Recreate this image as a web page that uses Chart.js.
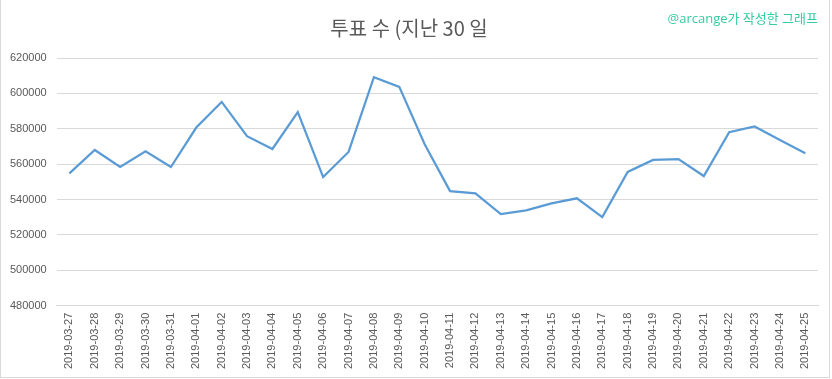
<!DOCTYPE html>
<html>
<head>
<meta charset="utf-8">
<script src="https://cdn.jsdelivr.net/npm/chart.js@4/dist/chart.umd.min.js"></script>
<style>
  html, body { margin: 0; padding: 0; background: #fff; }
  #wrap { position: relative; width: 832px; height: 379px; box-sizing: border-box; }
  #frame { position: absolute; left: 0; top: -1px; width: 830px; height: 379px; box-sizing: border-box; border: 1px solid #d9d9d9; pointer-events: none; }
  canvas { display: block; }
</style>
</head>
<body>
<div id="wrap">
  <canvas id="c" width="832" height="379"></canvas>
  <div id="frame"></div>
</div>
<script>
const categories = [
  "2019-03-27","2019-03-28","2019-03-29","2019-03-30","2019-03-31",
  "2019-04-01","2019-04-02","2019-04-03","2019-04-04","2019-04-05",
  "2019-04-06","2019-04-07","2019-04-08","2019-04-09","2019-04-10",
  "2019-04-11","2019-04-12","2019-04-13","2019-04-14","2019-04-15",
  "2019-04-16","2019-04-17","2019-04-18","2019-04-19","2019-04-20",
  "2019-04-21","2019-04-22","2019-04-23","2019-04-24","2019-04-25"
];
const votes = [
  554800, 568000, 558400, 567300, 558400,
  580700, 595200, 575800, 568600, 589400,
  552700, 566900, 609200, 603700, 571300,
  544800, 543500, 531800, 533900, 537800,
  540700, 530100, 555600, 562400, 562900,
  553300, 578100, 581300, 573700, 566200
];
const yTicks = [480000, 500000, 520000, 540000, 560000, 580000, 600000, 620000];
const titleText = "투표 수 (지난 30 일";
const watermarkText = "@arcange가 작성한 그래프";

const watermark = {
  id: 'watermark',
  afterDraw(chart) {
    const ctx = chart.ctx;
    ctx.save();
    ctx.font = '13px "Open Sans", "Noto Sans CJK KR", sans-serif';
    ctx.fillStyle = '#33cc9e';
    ctx.textAlign = 'right';
    ctx.textBaseline = 'middle';
    ctx.fillText(watermarkText, 818, 19);
    ctx.restore();
  }
};

new Chart(document.getElementById('c'), {
  type: 'line',
  data: {
    labels: categories,
    datasets: [{
      data: votes,
      borderColor: '#5b9bd5',
      borderWidth: 2.25,
      pointRadius: 0,
      tension: 0,
      fill: false
    }]
  },
  options: {
    responsive: false,
    animation: false,
    layout: { padding: { left: 0, right: 14, top: 6, bottom: 3 } },
    plugins: {
      legend: { display: false },
      tooltip: { enabled: false },
      title: {
        display: true,
        text: titleText,
        color: '#595959',
        font: { family: '"Noto Sans CJK KR", sans-serif', size: 20, weight: 'normal' },
        padding: { top: 10, bottom: 18 }
      }
    },
    scales: {
      x: {
        offset: true,
        grid: { display: false, drawTicks: false },
        border: { display: true, color: '#d9d9d9', width: 1 },
        ticks: {
          color: '#595959',
          font: { family: '"Liberation Sans", sans-serif', size: 11 },
          minRotation: 90,
          maxRotation: 90,
          autoSkip: false,
          padding: 7
        }
      },
      y: {
        min: 480000,
        max: 620000,
        afterBuildTicks(axis) { axis.ticks = yTicks.map(v => ({ value: v })); },
        grid: { color: '#d9d9d9', drawTicks: false },
        border: { display: false },
        ticks: {
          color: '#595959',
          font: { family: '"Liberation Sans", sans-serif', size: 11 },
          padding: 10,
          callback: (v) => String(v)
        }
      }
    }
  },
  plugins: [watermark]
});
</script>
</body>
</html>
